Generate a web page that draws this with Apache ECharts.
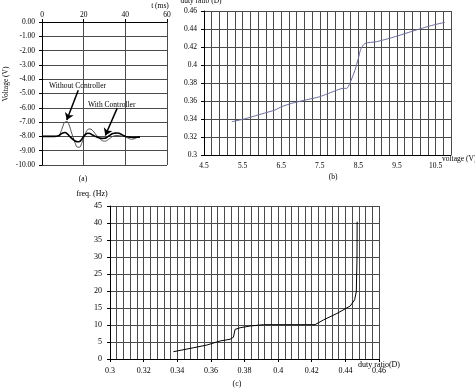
<!DOCTYPE html>
<html>
<head>
<meta charset="utf-8">
<script src="https://cdn.jsdelivr.net/npm/echarts@6/dist/echarts.min.js"></script>
<style>
html,body{margin:0;padding:0;background:#fff;}
#chart{width:475px;height:390px;}
</style>
</head>
<body>
<div id="chart"></div>
<script>
// ---- Panel (a): voltage transient vs time ----
const tMs = [0, 2, 4, 6, 8, 9, 10, 11, 12, 13, 14, 15, 16, 17, 18, 19, 20, 21, 22, 23, 24, 25, 26, 27, 28, 29, 30, 31, 32, 33, 34, 35, 36, 37, 38, 39, 40, 41, 42, 43, 44, 45, 46, 47];
const vWithout = [-8.0, -8.0, -8.0, -8.0, -7.95, -7.7, -7.3, -7.0, -6.97, -7.2, -7.65, -8.1, -8.5, -8.75, -8.75, -8.5, -8.1, -7.75, -7.52, -7.48, -7.55, -7.7, -7.9, -8.05, -8.2, -8.3, -8.33, -8.3, -8.2, -8.1, -8.0, -7.95, -7.93, -7.95, -7.97, -7.98, -8.0, -8.1, -8.17, -8.2, -8.18, -8.12, -8.07, -8.05];
const vWith = [-8.0, -8.0, -8.0, -8.0, -7.95, -7.85, -7.76, -7.73, -7.8, -7.95, -8.1, -8.22, -8.32, -8.37, -8.35, -8.22, -8.0, -7.85, -7.78, -7.8, -7.88, -7.96, -8.03, -8.08, -8.12, -8.14, -8.13, -8.08, -7.98, -7.88, -7.8, -7.77, -7.76, -7.78, -7.85, -7.93, -8.0, -8.03, -8.05, -8.06, -8.07, -8.06, -8.05, -8.05];
const aXRange = [0, 60, 20];
const aYRange = [-10, 0, 1];

// ---- Panel (b): duty ratio vs voltage ----
const voltB = [5.22, 5.54, 5.99, 6.34, 6.51, 6.77, 7.12, 7.5, 7.94, 8.11, 8.2, 8.28, 8.41, 8.5, 8.56, 8.67, 8.97, 9.4, 10.0, 10.44, 10.74];
const dutyB = [0.337, 0.340, 0.3456, 0.350, 0.3537, 0.3574, 0.361, 0.3648, 0.372, 0.3741, 0.374, 0.3797, 0.394, 0.4074, 0.4174, 0.424, 0.4259, 0.4308, 0.4389, 0.4444, 0.4474];
const bXRange = [4.5, 10.9, 0.2];
const bYRange = [0.3, 0.46, 0.02];

// ---- Panel (c): frequency vs duty ratio ----
const dutyC = [0.3377, 0.3496, 0.3576, 0.3655, 0.3714, 0.3734, 0.3744, 0.3774, 0.3833, 0.3913, 0.40, 0.41, 0.422, 0.427, 0.435, 0.4429, 0.4455, 0.4465, 0.4469, 0.447];
const freqC = [2.15, 3.3, 4.1, 5.3, 5.8, 6.4, 8.7, 9.2, 9.7, 10.1, 10.1, 10.1, 10.1, 11.5, 13.4, 15.6, 17.4, 19.8, 29.1, 40.4];
const cXRange = [0.3, 0.46, 0.02];
const cYRange = [0, 45, 5];

const FONT = 'Liberation Serif';
const GRID_COLOR = '#4a4a4a';

function pairs(xs, ys) { return xs.map((x, i) => [x, ys[i]]); }

function baseAxis(extra) {
  return Object.assign({
    type: 'value',
    axisLine: { show: true, onZero: false, lineStyle: { color: '#000', width: 1 } },
    axisTick: { show: true, length: 3, lineStyle: { color: '#000' } },
    axisLabel: { color: '#000', fontFamily: FONT, fontSize: 7.5 },
    splitLine: { show: true, lineStyle: { color: GRID_COLOR, width: 1 } }
  }, extra);
}

const chart = echarts.init(document.getElementById('chart'), null, { renderer: 'canvas' });

const option = {
  animation: false,
  backgroundColor: '#fff',
  grid: [
    { left: 42, top: 22, width: 125, height: 143 },
    { left: 204, top: 11, width: 247, height: 144 },
    { left: 110, top: 206, width: 269, height: 153 }
  ],
  xAxis: [
    baseAxis({ gridIndex: 0, position: 'top', min: aXRange[0], max: aXRange[1], interval: aXRange[2],
      axisLabel: { color: '#000', fontFamily: FONT, fontSize: 7.5, margin: 3 } }),
    baseAxis({ gridIndex: 1, min: bXRange[0], max: bXRange[1], interval: bXRange[2],
      axisTick: { show: false },
      axisLabel: { color: '#000', fontFamily: FONT, fontSize: 7.5, margin: 7,
        formatter: v => { const k = Math.round((v - bXRange[0]) / bXRange[2]); return k % 5 === 0 ? v.toFixed(1) : ''; } } }),
    baseAxis({ gridIndex: 2, min: cXRange[0], max: cXRange[1], interval: cXRange[2],
      minorTick: { show: false, splitNumber: 5 },
      minorSplitLine: { show: true, lineStyle: { color: GRID_COLOR, width: 1 } },
      axisLabel: { color: '#000', fontFamily: FONT, fontSize: 8, margin: 8,
        formatter: v => String(Math.round(v * 100) / 100) } })
  ],
  yAxis: [
    baseAxis({ gridIndex: 0, min: aYRange[0], max: aYRange[1], interval: aYRange[2],
      axisLabel: { color: '#000', fontFamily: FONT, fontSize: 7.5, margin: 7, formatter: v => v.toFixed(2) } }),
    baseAxis({ gridIndex: 1, min: bYRange[0], max: bYRange[1], interval: bYRange[2],
      axisLabel: { color: '#000', fontFamily: FONT, fontSize: 7.5, margin: 7,
        formatter: v => String(Math.round(v * 100) / 100) } }),
    baseAxis({ gridIndex: 2, min: cYRange[0], max: cYRange[1], interval: cYRange[2],
      axisLabel: { color: '#000', fontFamily: FONT, fontSize: 8, margin: 8 } })
  ],
  series: [
    {
      name: 'Without Controller', type: 'line', xAxisIndex: 0, yAxisIndex: 0,
      data: pairs(tMs, vWithout), showSymbol: false, smooth: true,
      lineStyle: { color: '#505050', width: 1 },
      markLine: {
        silent: true, symbol: ['none', 'arrow'], symbolSize: 7,
        label: { show: false },
        lineStyle: { color: '#000', width: 1.5, type: 'solid' },
        emphasis: { disabled: true },
        data: [
          [{ coord: [17.4, -4.77] }, { coord: [11.9, -6.86] }],
          [{ coord: [36.1, -6.02] }, { coord: [30.4, -7.94] }]
        ]
      }
    },
    {
      name: 'With Controller', type: 'line', xAxisIndex: 0, yAxisIndex: 0,
      data: pairs(tMs, vWith), showSymbol: false, smooth: true,
      lineStyle: { color: '#000', width: 1.6 }
    },
    {
      name: 'duty ratio', type: 'line', xAxisIndex: 1, yAxisIndex: 1,
      data: pairs(voltB, dutyB), showSymbol: false, smooth: 0.2,
      lineStyle: { color: '#6a6a9e', width: 1 }
    },
    {
      name: 'frequency', type: 'line', xAxisIndex: 2, yAxisIndex: 2,
      data: pairs(dutyC, freqC), showSymbol: false, smooth: false,
      lineStyle: { color: '#000', width: 1 }
    }
  ],
  graphic: [
    { type: 'text', x: 160, y: 6, style: { text: 't (ms)', font: '7.5px "Liberation Serif"', fill: '#000', align: 'center', verticalAlign: 'middle' } },
    { type: 'text', x: 6, y: 84, rotation: Math.PI / 2, style: { text: 'Voltage (V)', font: '7.5px "Liberation Serif"', fill: '#000', align: 'center', verticalAlign: 'middle' } },
    { type: 'text', x: 83, y: 179, style: { text: '(a)', font: '7.5px "Liberation Serif"', fill: '#000', align: 'center', verticalAlign: 'middle' } },
    { type: 'text', x: 49, y: 86, style: { text: 'Without Controller', font: '7.5px "Liberation Serif"', fill: '#000', align: 'left', verticalAlign: 'middle' } },
    { type: 'text', x: 88, y: 105, style: { text: 'With Controller', font: '7.5px "Liberation Serif"', fill: '#000', align: 'left', verticalAlign: 'middle' } },
    { type: 'text', x: 201, y: 1, style: { text: 'duty ratio (D)', font: '7.5px "Liberation Serif"', fill: '#000', align: 'center', verticalAlign: 'middle' } },
    { type: 'text', x: 442, y: 159, style: { text: 'voltage (V)', font: '7.5px "Liberation Serif"', fill: '#000', align: 'left', verticalAlign: 'middle' } },
    { type: 'text', x: 333, y: 177, style: { text: '(b)', font: '7.5px "Liberation Serif"', fill: '#000', align: 'center', verticalAlign: 'middle' } },
    { type: 'text', x: 92, y: 194, style: { text: 'freq. (Hz)', font: '8px "Liberation Serif"', fill: '#000', align: 'center', verticalAlign: 'middle' } },
    { type: 'text', x: 379, y: 365, style: { text: 'duty ratio(D)', font: '8px "Liberation Serif"', fill: '#000', align: 'center', verticalAlign: 'middle' } },
    { type: 'text', x: 237, y: 384, style: { text: '(c)', font: '8px "Liberation Serif"', fill: '#000', align: 'center', verticalAlign: 'middle' } }
  ]
};
chart.setOption(option);
</script>
</body>
</html>
